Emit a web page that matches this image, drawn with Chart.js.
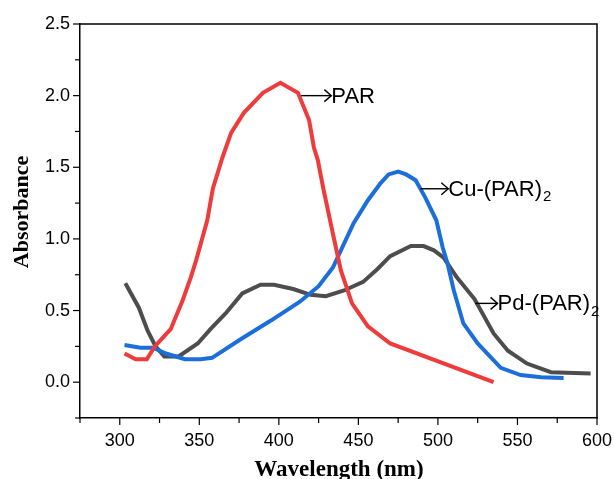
<!DOCTYPE html>
<html>
<head>
<meta charset="utf-8">
<script src="https://cdn.jsdelivr.net/npm/chart.js@4"></script>
<style>
  html, body { margin: 0; padding: 0; background: #fff; }
  #wrap { width: 614px; height: 479px; position: relative; }
</style>
</head>
<body>
<div id="wrap"><canvas id="c" width="614" height="479"></canvas></div>
<script>
// Wavelength (nm) and absorbance values
const parX = [303, 310, 317, 322, 332, 339.5, 344.6, 348, 355, 358.5, 364.6, 370, 378, 390, 401, 412, 419, 422, 424.5, 428, 434.5, 439, 446, 456, 470, 535];
const parY = [0.20, 0.16, 0.16, 0.25, 0.37, 0.57, 0.73, 0.85, 1.13, 1.35, 1.57, 1.74, 1.88, 2.02, 2.09, 2.02, 1.83, 1.64, 1.55, 1.35, 1.01, 0.78, 0.55, 0.39, 0.27, 0.0];

const cuX = [303, 313, 321, 329, 341, 351, 358, 376, 395, 413, 425, 434, 439, 447, 456, 464, 469, 475, 480, 486, 492, 499, 503, 506, 510, 516, 525, 539.5, 552, 565, 579];
const cuY = [0.26, 0.24, 0.24, 0.20, 0.16, 0.16, 0.17, 0.30, 0.43, 0.56, 0.67, 0.80, 0.92, 1.11, 1.27, 1.39, 1.45, 1.47, 1.45, 1.41, 1.29, 1.13, 0.94, 0.83, 0.64, 0.41, 0.27, 0.10, 0.05, 0.035, 0.03];

const pdX = [303.5, 312, 317.5, 322.5, 328, 337, 349, 357, 366.5, 377, 388.5, 397, 409, 420, 429.5, 441, 453, 462, 470, 483, 491, 497.5, 503.6, 512, 523, 535, 544, 556, 571, 596];
const pdY = [0.69, 0.52, 0.36, 0.25, 0.18, 0.18, 0.27, 0.37, 0.48, 0.62, 0.68, 0.68, 0.65, 0.61, 0.60, 0.64, 0.70, 0.79, 0.88, 0.95, 0.95, 0.92, 0.87, 0.73, 0.58, 0.34, 0.22, 0.13, 0.07, 0.06];

const xMin = 275, xMax = 600, xStep = 25;
const yMin = -0.25, yMax = 2.5, yStep = 0.25;
const xTickLabels = [300, 350, 400, 450, 500, 550, 600];
const yTickLabels = ['0.0', '0.5', '1.0', '1.5', '2.0', '2.5'];

// annotation labels: [arrow start x, arrow end x, y, main text, subscript]
const labels = [
  [414, 433, 2.0, 'PAR', ''],
  [489, 506.5, 1.35, 'Cu-(PAR)', '2'],
  [523.5, 537.5, 0.55, 'Pd-(PAR)', '2']
];

function pts(xs, ys) { return xs.map((x, i) => ({x: x, y: ys[i]})); }

const frame = {
  id: 'frame',
  afterDraw(chart) {
    const ctx = chart.ctx;
    const a = chart.chartArea;
    const xs = chart.scales.x, ys = chart.scales.y;
    ctx.save();
    ctx.strokeStyle = '#000';
    ctx.lineWidth = 1.5;
    ctx.beginPath();
    ctx.moveTo(a.left, a.top); ctx.lineTo(a.right, a.top); ctx.lineTo(a.right, a.bottom);
    ctx.stroke();
    // ticks
    ctx.lineWidth = 1.2;
    for (let v = xMin; v <= xMax + 1e-6; v += xStep) {
      const px = xs.getPixelForValue(v);
      const major = xTickLabels.indexOf(v) >= 0;
      ctx.beginPath(); ctx.moveTo(px, a.bottom); ctx.lineTo(px, a.bottom + (major ? 7 : 5)); ctx.stroke();
    }
    for (let i = 0; i * yStep + yMin <= yMax + 1e-6; i++) {
      const v = yMin + i * yStep;
      const py = ys.getPixelForValue(v);
      const major = yTickLabels.indexOf(v.toFixed(1)) >= 0 && Math.abs(v * 2 - Math.round(v * 2)) < 1e-6;
      ctx.beginPath(); ctx.moveTo(a.left, py); ctx.lineTo(a.left - (major ? 7 : 5), py); ctx.stroke();
    }
    // annotations
    ctx.fillStyle = '#000';
    ctx.lineWidth = 1.4;
    labels.forEach(l => {
      const x1 = xs.getPixelForValue(l[0]);
      const x2 = xs.getPixelForValue(l[1]);
      const y = ys.getPixelForValue(l[2]);
      ctx.beginPath(); ctx.moveTo(x1, y); ctx.lineTo(x2, y); ctx.stroke();
      ctx.beginPath(); ctx.moveTo(x2 - 7, y - 6); ctx.lineTo(x2, y); ctx.lineTo(x2 - 7, y + 6); ctx.stroke();
      ctx.font = '22px "Liberation Sans", Arial, sans-serif';
      ctx.textBaseline = 'middle';
      ctx.textAlign = 'left';
      ctx.fillText(l[3], x2, y + 1);
      if (l[4]) {
        const w = ctx.measureText(l[3]).width;
        ctx.font = '15px "Liberation Sans", Arial, sans-serif';
        ctx.fillText(l[4], x2 + w + 1, y + 8);
      }
    });
    // axis titles
    ctx.font = 'bold 23px "Liberation Serif", "Times New Roman", serif';
    ctx.textAlign = 'center';
    ctx.textBaseline = 'alphabetic';
    ctx.fillText('Wavelength (nm)', 339, 476);
    ctx.font = 'bold 22px "Liberation Serif", "Times New Roman", serif';
    ctx.save();
    ctx.translate(28, 212);
    ctx.rotate(-Math.PI / 2);
    ctx.fillText('Absorbance', 0, 0);
    ctx.restore();
    ctx.restore();
  }
};

new Chart(document.getElementById('c'), {
  type: 'line',
  data: {
    datasets: [
      {label: 'PAR', data: pts(parX, parY), borderColor: '#EE3B3B', borderWidth: 4, pointRadius: 0, tension: 0, fill: false},
      {label: 'Cu-(PAR)2', data: pts(cuX, cuY), borderColor: '#1C6EDB', borderWidth: 4, pointRadius: 0, tension: 0, fill: false},
      {label: 'Pd-(PAR)2', data: pts(pdX, pdY), borderColor: '#4D4D4D', borderWidth: 4, pointRadius: 0, tension: 0, fill: false}
    ]
  },
  options: {
    responsive: false,
    animation: false,
    events: [],
    layout: {padding: {left: 0, right: 17, top: 24, bottom: 0}},
    plugins: {legend: {display: false}, tooltip: {enabled: false}},
    scales: {
      x: {
        type: 'linear', min: xMin, max: xMax,
        afterFit(s) { s.height = 61; s.paddingLeft = 0; s.paddingRight = 0; },
        grid: {display: true, drawOnChartArea: false, drawTicks: false},
        border: {display: true, color: '#000', width: 1.5},
        ticks: {
          stepSize: xStep, autoSkip: false, maxRotation: 0, padding: 12,
          color: '#000', font: {family: '"Liberation Sans", Arial, sans-serif', size: 18},
          callback: v => xTickLabels.indexOf(v) >= 0 ? String(v) : ''
        }
      },
      y: {
        type: 'linear', min: yMin, max: yMax,
        afterFit(s) { s.width = 80; s.paddingTop = 0; s.paddingBottom = 0; },
        grid: {display: true, drawOnChartArea: false, drawTicks: false},
        border: {display: true, color: '#000', width: 1.5},
        ticks: {
          stepSize: yStep, autoSkip: false, padding: 10,
          color: '#000', font: {family: '"Liberation Sans", Arial, sans-serif', size: 18},
          callback: v => {
            const s = Number(v).toFixed(1);
            return (Math.abs(v * 2 - Math.round(v * 2)) < 1e-6 && yTickLabels.indexOf(s) >= 0) ? s : '';
          }
        }
      }
    }
  },
  plugins: [frame]
});
</script>
</body>
</html>
